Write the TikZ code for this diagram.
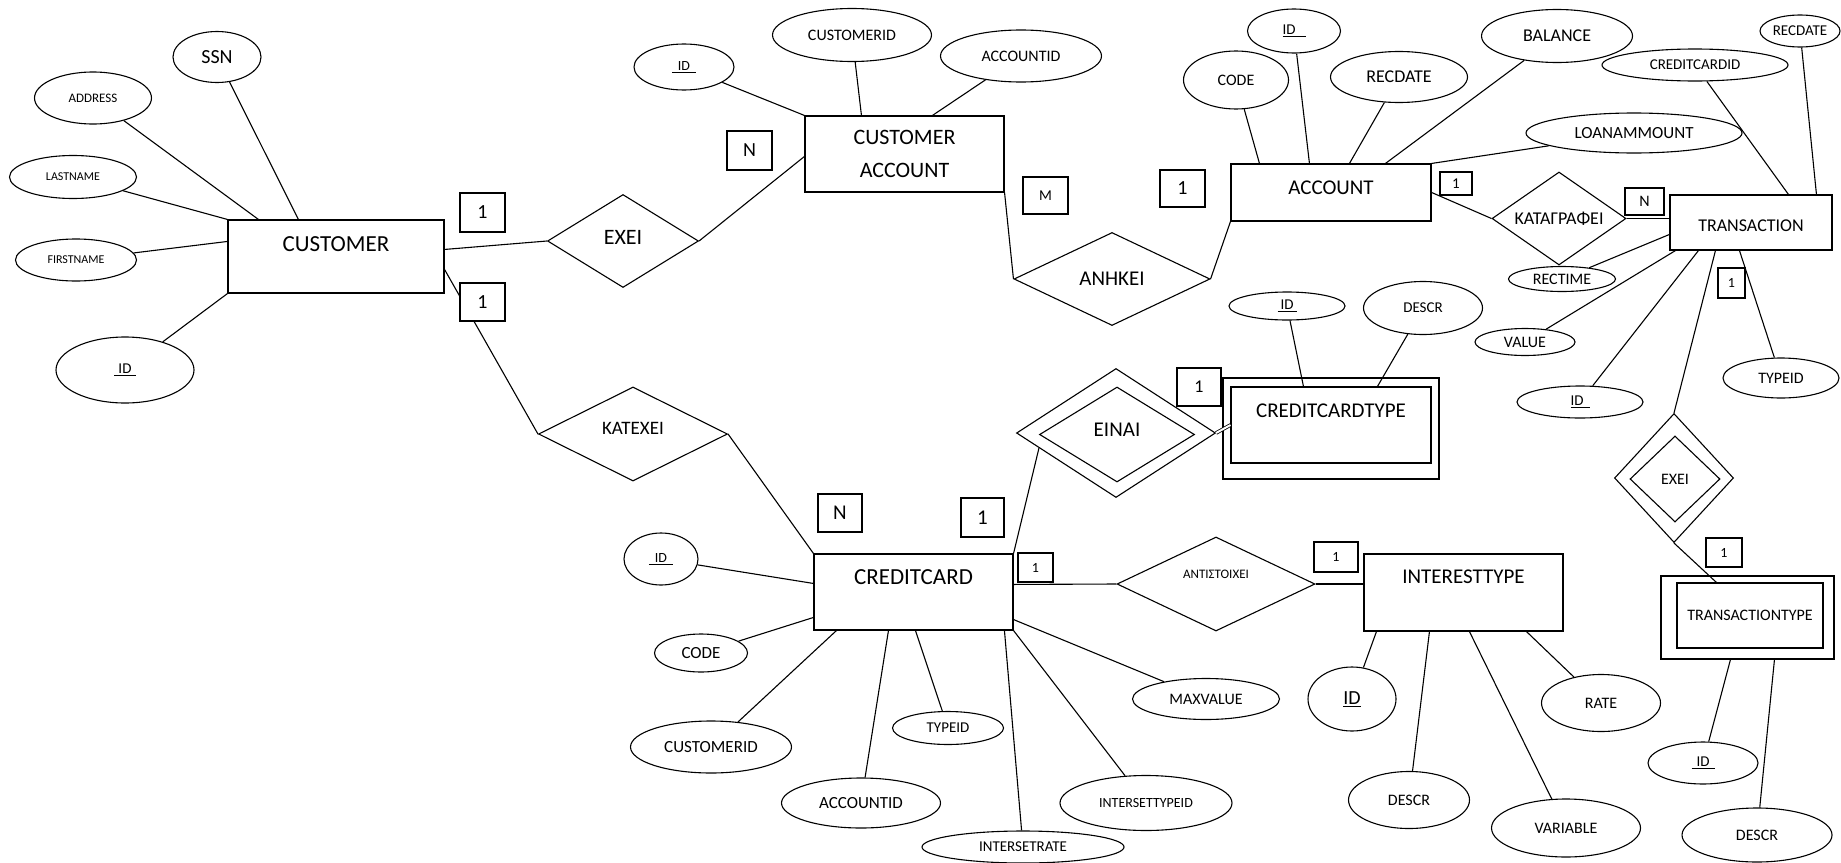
\documentclass[tikz,border=0pt]{standalone}
\usepackage{fontspec}
\setmainfont{Carlito}
\usepackage{tikz}
\usetikzlibrary{shapes.geometric}

\newcommand{\idkey}[2]{\underline{\hspace{#1}ID\hspace{#2}}}

\begin{document}
\begin{tikzpicture}[x=1pt, y=-1pt, line width=1.1pt,
    fnt/.style={font=\fontsize{#1}{#1}\selectfont},
    sz/.style 2 args={minimum width=#1, minimum height=#2},
    ent/.style={draw, rectangle, inner sep=0pt},
    rel/.style={draw, diamond, aspect=1.5, inner sep=0pt},
    attr/.style={draw, ellipse, inner sep=0pt},
    card/.style={draw, rectangle, fill=white, inner sep=0pt}]
            \useasboundingbox (0,0) rectangle (1841,862);
            \node[ent, fnt=23, minimum width=216, text height=31.5pt, text depth=41.5pt] (cust) at (336,256.5) {CUSTOMER};
            \node[ent, fnt=22, sz={199}{76}, align=center] (custacc) at (904.5,154) {CUSTOMER\\[11pt]ACCOUNT};
            \node[ent, fnt=21, minimum width=200, text height=30.7pt, text depth=26.3pt] (acc) at (1331,192.5) {ACCOUNT};
            \node[ent, fnt=18, minimum width=162, text height=36.8pt, text depth=18.2pt] (trans) at (1751,222.5) {TRANSACTION};
            \node[ent, fnt=23, minimum width=199, text height=30.4pt, text depth=45.6pt] (cc) at (913.5,592) {CREDITCARD};
            \node[ent, fnt=21, minimum width=199, text height=29.8pt, text depth=47.2pt] (inttype) at (1463.5,592.5) {INTERESTTYPE};
            \node[ent, sz={216}{101}] (cctout) at (1331,428.5) {};
            \node[ent, fnt=21, minimum width=200, text height=30.8pt, text depth=45.2pt] (cct) at (1331,425) {CREDITCARDTYPE};
            \node[ent, sz={173}{83}] (ttout) at (1747.5,617.5) {};
            \node[ent, fnt=16, sz={146}{65}] (tt) at (1750,615.5) {TRANSACTIONTYPE};

            \node[rel, fnt=22, sz={151}{93}, text depth=8pt] (exei) at (623,241) {ΕΧΕΙ};
            \node[rel, fnt=19, sz={189}{94}, text depth=12pt] (katexei) at (633,434) {ΚΑΤΕΧΕΙ};
            \node[rel, fnt=21, sz={196}{93}] (anhkei) at (1112,279) {ΑΝΗΚΕΙ};
            \node[rel, fnt=18, sz={134}{93}] (katagr) at (1559,218.5) {ΚΑΤΑΓΡΑΦΕΙ};
            \node[rel, sz={199}{129}] (einaiout) at (1116,433) {};
            \node[rel, fnt=21, sz={155}{95}, text depth=9pt] (einai) at (1117,434.5) {ΕΙΝΑΙ};
            \node[rel, fnt=13, sz={198}{94}, text depth=20pt] (antist) at (1216,584) {ΑΝΤΙΣΤΟΙΧΕΙ};
            \node[rel, sz={119}{129}] (exeiout) at (1674,478) {};
            \node[rel, fnt=16, sz={90}{86}] (exeiw) at (1675,479) {ΕΧΕΙ};

            \node[attr, fnt=20, sz={88}{51}] (cssn) at (217,57) {SSN};
            \node[attr, fnt=13, sz={117}{52}] (caddr) at (93,98) {ADDRESS};
            \node[attr, fnt=12, sz={127}{43}] (clast) at (73,177) {LASTNAME};
            \node[attr, fnt=12, sz={121}{42}] (cfirst) at (76,260) {FIRSTNAME};
            \node[attr, fnt=15, sz={138}{66}] (cid) at (125,370) {\idkey{4pt}{4pt}};
            \node[attr, fnt=14, sz={100}{46}] (caid) at (684,67) {\idkey{6pt}{6pt}};
            \node[attr, fnt=16, sz={159}{53}] (cacust) at (852,35) {CUSTOMERID};
            \node[attr, fnt=16, sz={161}{52}] (caacc) at (1021,56) {ACCOUNTID};
            \node[attr, fnt=15, sz={93}{44}] (aid) at (1294,31) {\idkey{0pt}{10pt}};
            \node[attr, fnt=16, sz={105}{58}] (acode) at (1236,80) {CODE};
            \node[attr, fnt=18, sz={137}{51}] (arec) at (1399,77) {RECDATE};
            \node[attr, fnt=18, sz={151}{53}] (abal) at (1557,36) {BALANCE};
            \node[attr, fnt=17, sz={216}{40}] (aloan) at (1634,133) {LOANAMMOUNT};
            \node[attr, fnt=15, sz={186}{32}] (tcc) at (1695,65) {CREDITCARDID};
            \node[attr, fnt=15, sz={80}{32}] (trec) at (1800,31) {\makebox[0pt]{RECDATE}};
            \node[attr, fnt=16, sz={107}{25}] (ttime) at (1562,279) {RECTIME};
            \node[attr, fnt=16, sz={100}{27}] (tval) at (1525,342) {VALUE};
            \node[attr, fnt=15, sz={126}{32}] (tid) at (1580,402) {\idkey{0pt}{6pt}};
            \node[attr, fnt=16, sz={116}{40}] (ttype) at (1781,378) {TYPEID};
            \node[attr, fnt=15, sz={116}{28}] (ctid) at (1287,306) {\idkey{3pt}{3pt}};
            \node[attr, fnt=15, sz={119}{53}] (ctdesc) at (1423,308) {DESCR};
            \node[attr, fnt=14, sz={74}{52}] (ccid) at (661,559) {\idkey{6pt}{6pt}};
            \node[attr, fnt=17, sz={93}{38}] (cccode) at (701,653) {CODE};
            \node[attr, fnt=17, sz={161}{52}] (cccust) at (711,747) {CUSTOMERID};
            \node[attr, fnt=17, sz={159}{50}] (ccacc) at (861,803) {ACCOUNTID};
            \node[attr, fnt=15, sz={111}{33}] (cctype) at (948,728) {TYPEID};
            \node[attr, fnt=15, sz={202}{32}] (ccrate) at (1023,847) {INTERSETRATE};
            \node[attr, fnt=14, sz={172}{55}] (ccitype) at (1146,803) {INTERSETTYPEID};
            \node[attr, fnt=16, sz={147}{41}] (ccmax) at (1206,699) {MAXVALUE};
            \node[attr, fnt=20, sz={88}{64}] (itid) at (1352,699) {\underline{ID}};
            \node[attr, fnt=16, sz={121}{57}] (itdesc) at (1409,800) {DESCR};
            \node[attr, fnt=16, sz={149}{58}] (itvar) at (1566,828) {VARIABLE};
            \node[attr, fnt=16, sz={119}{57}] (itrate) at (1601,703) {RATE};
            \node[attr, fnt=15, sz={110}{42}] (ttid) at (1703,763) {\idkey{5pt}{5pt}};
            \node[attr, fnt=16, sz={150}{54}] (ttdesc) at (1757,835) {DESCR};

            \draw (cssn) -- ([xshift=71pt]cust.north west);
            \draw (caddr) -- ([xshift=31pt]cust.north west);
            \draw (clast) -- (cust.north west);
            \draw (cfirst) -- ([yshift=-22pt]cust.north west);
            \draw (cid) -- (cust.south west);
            \draw ([yshift=-30pt]cust.north east) -- (exei.west);
            \draw ([yshift=-50pt]cust.north east) -- (katexei.west);
            \draw (exei.east) -- ([yshift=-41pt]custacc.north west);
            \draw (caid) -- (custacc.north west);
            \draw (cacust) -- ([xshift=57pt]custacc.north west);
            \draw (caacc) -- ([xshift=128pt]custacc.north west);
            \draw (custacc.south east) -- (anhkei.west);
            \draw (anhkei.east) -- (acc.south west);
            \draw (acode) -- ([xshift=29pt]acc.north west);
            \draw (aid) -- ([xshift=79pt]acc.north west);
            \draw (arec) -- ([xshift=119pt]acc.north west);
            \draw (abal) -- ([xshift=155pt]acc.north west);
            \draw (aloan) -- (acc.north east);
            \draw ([yshift=-29pt]acc.north east) -- (katagr.west);
            \draw (katagr.east) -- (katagr.east -| trans.west);
            \draw (tcc) -- ([xshift=119pt]trans.north west);
            \draw (trec) -- ([xshift=147pt]trans.north west);
            \draw (ttime) -- ([yshift=-40pt]trans.north west);
            \draw (tval) -- ([xshift=6pt]trans.south west);
            \draw (tid) -- ([xshift=29pt]trans.south west);
            \draw ([xshift=46pt]trans.south west) -- (exeiout.north);
            \draw (ttype) -- ([xshift=70pt]trans.south west);
            \draw (exeiout.south) -- ([xshift=40pt]tt.north west);
            \draw (ttid) -- ([xshift=70pt]ttout.south west);
            \draw (ttdesc) -- ([xshift=114pt]ttout.south west);
            \draw (ctid) -- ([xshift=73pt]cct.north west);
            \draw (ctdesc) -- ([xshift=147pt]cct.north west);
            \draw[double, double distance=2pt, line width=0.8pt] (einaiout.east) -- (cct.west);
            \draw (cc.north east) -- (einaiout.191);
            \draw (katexei.east) -- (cc.north west);
            \draw (ccid) -- ([yshift=-30pt]cc.north west);
            \draw (cccode) -- ([yshift=-64pt]cc.north west);
            \draw (cccust) -- ([xshift=23pt]cc.south west);
            \draw (ccacc) -- ([xshift=75pt]cc.south west);
            \draw (cctype) -- ([xshift=102pt]cc.south west);
            \draw (ccrate) -- ([xshift=191pt]cc.south west);
            \draw (ccitype) -- (cc.south east);
            \draw (ccmax) -- ([yshift=11pt]cc.south east);
            \draw ([yshift=-31pt]cc.north east) -- (antist.west);
            \draw (antist.east) -- (antist.east -| inttype.west);
            \draw (itid) -- ([xshift=13pt]inttype.south west);
            \draw (itdesc) -- ([xshift=66pt]inttype.south west);
            \draw (itvar) -- ([xshift=106pt]inttype.south west);
            \draw (itrate) -- ([xshift=163pt]inttype.south west);

            \node[card, fnt=20, sz={45}{39}] (cu1) at (482.5,212.5) {1};
            \node[card, fnt=20, sz={45}{38}] (cu2) at (482.5,302) {1};
            \node[card, fnt=20, sz={45}{39}] (caN) at (749.5,150.5) {N};
            \node[card, fnt=15, sz={45}{37}] (caM) at (1045.5,195.5) {M};
            \node[card, fnt=20, sz={45}{37}] (ac1) at (1182.5,188.5) {1};
            \node[card, fnt=15, sz={32}{23}] (acr1) at (1456,183.5) {1};
            \node[card, fnt=16, sz={39}{27}] (trN) at (1644.5,201.5) {N};
            \node[card, fnt=14, sz={27}{30}] (tr1) at (1731.5,283) {1};
            \node[card, fnt=18, sz={44}{38}] (cct1) at (1199,387) {1};
            \node[card, fnt=21, sz={44}{38}] (ccN) at (840,513) {N};
            \node[card, fnt=21, sz={43}{39}] (cc1) at (982.5,517.5) {1};
            \node[card, fnt=14, sz={35}{29}] (ccr1) at (1035.5,567.5) {1};
            \node[card, fnt=14, sz={44}{30}] (it1) at (1336,557) {1};
            \node[card, fnt=14, sz={36}{29}] (tt1) at (1724,552.5) {1};
        \end{tikzpicture}
\end{document}
